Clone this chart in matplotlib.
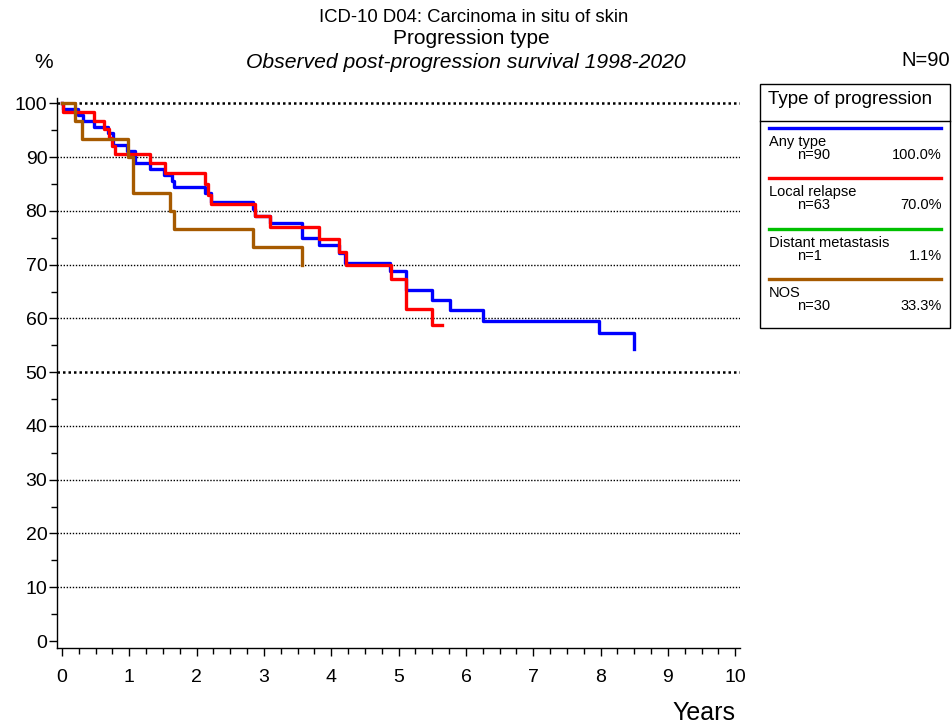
import matplotlib
matplotlib.use("Agg")
import matplotlib.pyplot as plt
from matplotlib.lines import Line2D
from matplotlib.patches import Rectangle

plt.rcParams['font.family'] = ['Liberation Sans', 'DejaVu Sans']

# ---- data (step start time in years, survival %) ----
any_t = [0, 0.02, 0.24, 0.31, 0.47, 0.69, 0.76, 0.97, 1.08, 1.31, 1.51, 1.63, 1.66, 2.12,
         2.21, 2.84, 2.87, 3.09, 3.56, 3.82, 4.11, 4.20, 4.87, 5.11, 5.49, 5.77, 6.25, 7.98, 8.50]
any_s = [100, 98.9, 97.8, 96.7, 95.6, 94.4, 92.2, 91.1, 88.9, 87.8, 86.7, 85.6, 84.4, 83.3,
         81.6, 80.4, 79.0, 77.7, 74.9, 73.6, 72.1, 70.3, 68.8, 65.2, 63.4, 61.5, 59.6, 57.2, 54.4]

local_t = [0, 0.02, 0.47, 0.63, 0.70, 0.74, 0.78, 1.31, 1.53, 2.13, 2.17, 2.21, 2.86, 3.09,
           3.82, 4.11, 4.22, 4.88, 5.11, 5.50, 5.64]
local_s = [100, 98.4, 96.8, 95.2, 93.6, 92.1, 90.5, 88.9, 87.1, 85.0, 83.0, 81.2, 79.0, 77.0,
           74.7, 72.4, 70.0, 67.4, 61.8, 58.8, 58.8]

distant_t = []
distant_s = []

nos_t = [0, 0.20, 0.29, 0.98, 1.06, 1.61, 1.66, 2.84, 3.57]
nos_s = [100, 96.7, 93.3, 90.0, 83.3, 80.0, 76.7, 73.3, 70.0]

series_names = ["Any type", "Local relapse", "Distant metastasis", "NOS"]
series_n = ["n=90", "n=63", "n=1", "n=30"]
series_pct = ["100.0%", "70.0%", "1.1%", "33.3%"]
series_colors = ["#0000FF", "#FF0000", "#00C000", "#A65A00"]

x_ticks = list(range(0, 11))
y_ticks = list(range(0, 101, 10))

# ---- figure ----
W, H = 953, 728
fig = plt.figure(figsize=(W / 100, H / 100), dpi=100)
ax = fig.add_axes([57 / W, 1 - 648 / H, (740 - 57) / W, (648 - 98) / H])
ax.set_xlim(-0.074, 10.07)
ax.set_ylim(-1.3, 101.0)

# grid lines
for y in y_ticks[1:]:
    lw = 1.8 if y in (50, 100) else 1.0
    ax.axhline(y, color="black", lw=lw, ls=(0, (1, 1.2)), zorder=1)

data = [(any_t, any_s), (local_t, local_s), (distant_t, distant_s), (nos_t, nos_s)]
for (t, s), c in zip(data, series_colors):
    if len(t):
        ax.step(t, s, where="post", color=c, lw=2.4, zorder=3)

for sp in ["top", "right"]:
    ax.spines[sp].set_visible(False)
ax.spines["left"].set_linewidth(1.0)
ax.spines["bottom"].set_linewidth(1.0)

ax.set_xticks(x_ticks)
ax.set_xticks([i * 0.25 for i in range(41)], minor=True)
ax.set_yticks(y_ticks)
ax.set_yticks(list(range(5, 100, 10)), minor=True)
ax.tick_params(axis="both", which="major", length=6, width=1, labelsize=14)
ax.tick_params(axis="both", which="minor", length=4, width=1)
ax.tick_params(axis="x", pad=9)
ax.tick_params(axis="y", pad=1)

# titles
fig.text(474 / W, 1 - 18 / H, "ICD-10 D04: Carcinoma in situ of skin", ha="center", va="center", fontsize=13.3)
fig.text(471 / W, 1 - 39 / H, "Progression type", ha="center", va="center", fontsize=15)
fig.text(466 / W, 1 - 62 / H, "Observed post-progression survival 1998-2020", ha="center", va="center",
         fontsize=15.2, style="italic")
fig.text(44 / W, 1 - 62 / H, "%", ha="center", va="center", fontsize=15)
fig.text(950 / W, 1 - 61 / H, "N=90", ha="right", va="center", fontsize=14.5)
fig.text(735 / W, 1 - 713 / H, "Years", ha="right", va="center", fontsize=18)

# legend box
fig.add_artist(Rectangle((760 / W, 1 - 328 / H), (950 - 760) / W, (328 - 84) / H,
                         transform=fig.transFigure, fill=False, edgecolor="black", lw=1.0))
fig.add_artist(Line2D([760 / W, 950 / W], [1 - 121 / H, 1 - 121 / H], transform=fig.transFigure,
                      color="black", lw=1.0))
fig.text(768 / W, 1 - 100 / H, "Type of progression", ha="left", va="center", fontsize=13.5)
for i, (name, n, pct, c) in enumerate(zip(series_names, series_n, series_pct, series_colors)):
    y0 = 128 + i * 50.3
    fig.add_artist(Line2D([769 / W, 941 / W], [1 - y0 / H, 1 - y0 / H], transform=fig.transFigure,
                          color=c, lw=2.4))
    fig.text(769 / W, 1 - (y0 + 14) / H, name, ha="left", va="center", fontsize=10.5)
    fig.text(797 / W, 1 - (y0 + 27) / H, n, ha="left", va="center", fontsize=10.5)
    fig.text(942 / W, 1 - (y0 + 27) / H, pct, ha="right", va="center", fontsize=10.5)

fig.savefig("out.png", dpi=100)
